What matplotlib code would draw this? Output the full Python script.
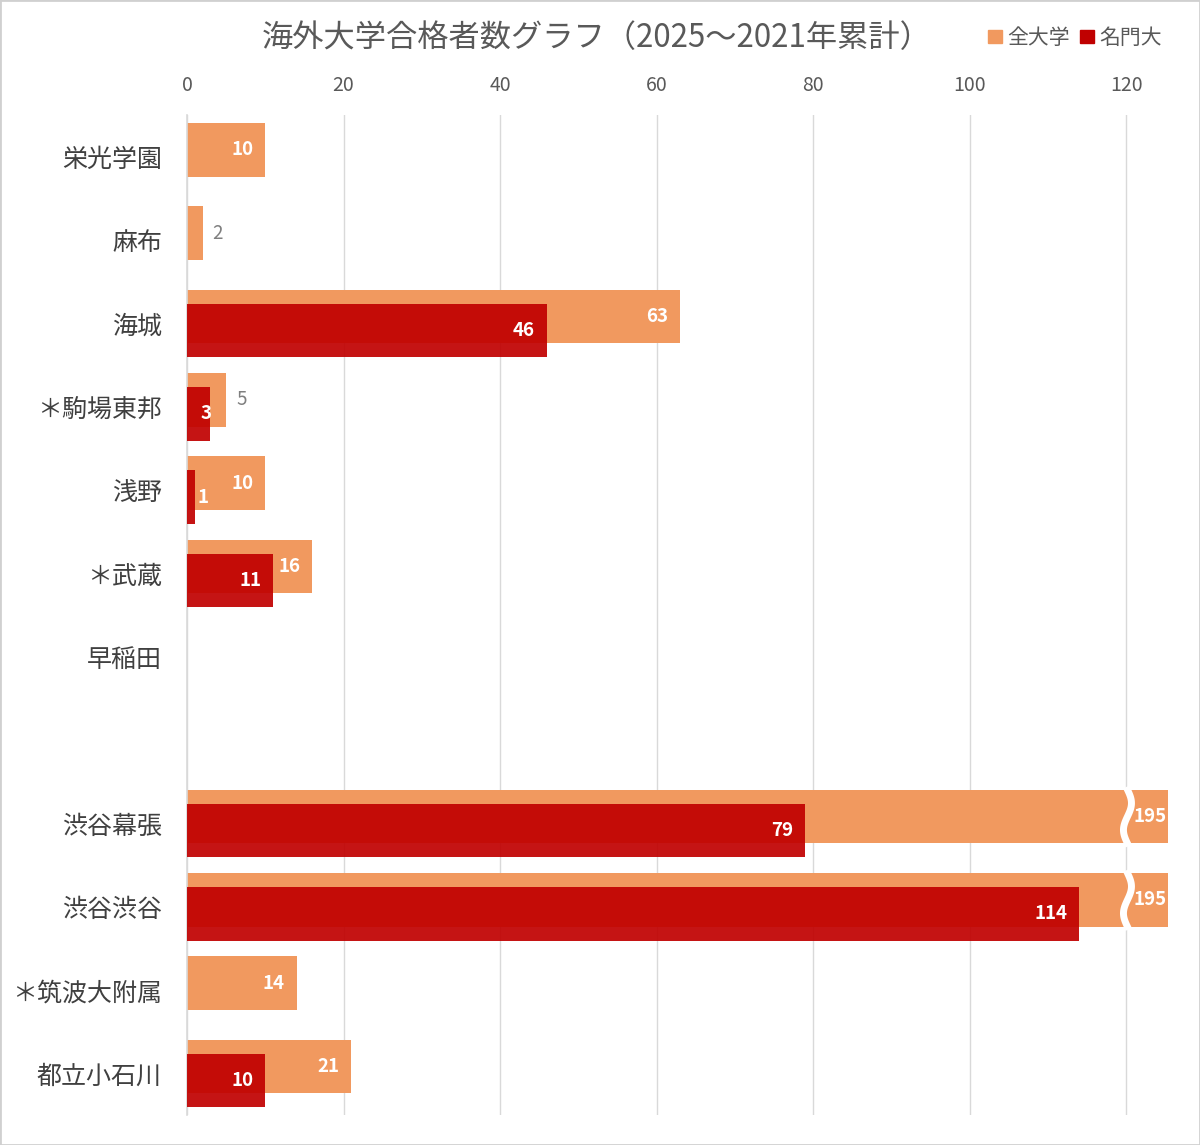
import numpy as np
import matplotlib
matplotlib.use("Agg")
import matplotlib.pyplot as plt
import matplotlib.patches as patches
from matplotlib.lines import Line2D

plt.rcParams['font.family'] = ['Noto Sans CJK JP', 'DejaVu Sans']

# chart data (blank row between 早稲田 and 渋谷幕張)
schools = ['栄光学園', '麻布', '海城', '＊駒場東邦', '浅野', '＊武蔵', '早稲田', '',
           '渋谷幕張', '渋谷渋谷', '＊筑波大附属', '都立小石川']
all_univ = [10, 2, 63, 5, 10, 16, np.nan, np.nan, 195, 195, 14, 21]
top_univ = [np.nan, np.nan, 46, 3, 1, 11, np.nan, np.nan, 79, 114, np.nan, 10]
x_ticks = [0, 20, 40, 60, 80, 100, 120]

title = '海外大学合格者数グラフ（2025〜2021年累計）'
series_names = ['全大学', '名門大']

ORANGE = '#F1995F'
RED = '#C00000'
GRID = '#D9D9D9'
TEXT = '#595959'

x_max = 125.3
break_at = 120
bar_h = 0.645
shift = 0.084

fig = plt.figure(figsize=(12, 11.45), dpi=100)
ax = fig.add_axes([0.1558, 0.026, 0.8175, 0.8734])

y = np.arange(len(schools))
orange_vals = np.array(all_univ, dtype=float)
red_vals = np.array(top_univ, dtype=float)
orange_shown = np.minimum(orange_vals, x_max)
red_shown = np.minimum(red_vals, x_max)

ax.barh(y - shift, np.nan_to_num(orange_shown), height=bar_h, color=ORANGE, zorder=2)
ax.barh(y + shift, np.nan_to_num(red_shown), height=bar_h, color=RED, alpha=0.92, zorder=3)

ax.set_xlim(0, x_max)
ax.set_ylim(len(schools) - 0.5, -0.5)

# px per data unit, for paddings
px_per_unit = ax.get_window_extent().width / x_max

def u(px):
    return px / px_per_unit

# break marks for bars beyond the axis
for yi, v in zip(y, orange_vals):
    if np.isnan(v) or v <= x_max:
        continue
    t = np.linspace(-0.05, 1.05, 60)
    yy = (yi - shift - bar_h / 2) + t * bar_h
    xx = break_at + u(1) + u(4) * np.sin(2 * np.pi * t)
    ax.add_line(Line2D(xx, yy, color='white', lw=5, zorder=4, solid_capstyle='butt'))

# data labels: orange series
for yi, v in zip(y, orange_vals):
    if np.isnan(v):
        continue
    yc = yi - shift
    if v > x_max:
        ax.text(break_at + u(7), yc, f'{int(v)}', ha='left', va='center',
                color='white', fontsize=13.5, fontweight='bold', zorder=5)
    elif v * px_per_unit > 60:
        ax.text(v - u(12), yc, f'{int(v)}', ha='right', va='center',
                color='white', fontsize=13.5, fontweight='bold', zorder=5)
    else:
        ax.text(v + u(10), yc, f'{int(v)}', ha='left', va='center',
                color='#7F7F7F', fontsize=13.5, zorder=5)

# data labels: red series
for yi, v in zip(y, red_vals):
    if np.isnan(v):
        continue
    yc = yi + shift
    if v * px_per_unit > 60:
        ax.text(v - u(12), yc, f'{int(v)}', ha='right', va='center',
                color='white', fontsize=13.5, fontweight='bold', zorder=5)
    else:
        ax.text(max(v - 0.6, 2.0), yc, f'{int(v)}', ha='center', va='center',
                color='white', fontsize=13.5, fontweight='bold', zorder=5)

# axes styling
ax.xaxis.tick_top()
ax.set_xticks(x_ticks)
ax.set_xticklabels([str(t) for t in x_ticks])
ax.tick_params(axis='x', length=0, pad=14, labelsize=14, labelcolor=TEXT)
ax.set_yticks(y)
ax.set_yticklabels(schools)
ax.tick_params(axis='y', length=0, pad=18, labelsize=18, labelcolor='#404040')
ax.grid(axis='x', color=GRID, lw=1, zorder=0)
ax.set_axisbelow(True)
for side in ['top', 'right', 'bottom']:
    ax.spines[side].set_visible(False)
ax.spines['left'].set_color(GRID)
ax.spines['left'].set_linewidth(1.2)

fig.text(0.4975, 0.967, title, ha='center', va='center', fontsize=22.5, color=TEXT)

handles = [patches.Patch(color=ORANGE), patches.Patch(color=RED)]
fig.legend(handles, series_names, loc='center right', bbox_to_anchor=(0.968, 0.967),
           ncol=2, frameon=False, fontsize=15, handlelength=0.65, handleheight=0.65,
           handletextpad=0.25, columnspacing=0.5, labelcolor=TEXT,
           borderaxespad=0, borderpad=0)

fig.patches.append(patches.Rectangle((0, 0), 1, 1, transform=fig.transFigure,
                                     fill=False, edgecolor='#D0D0D0', lw=2))

fig.savefig('out.png', dpi=100)
